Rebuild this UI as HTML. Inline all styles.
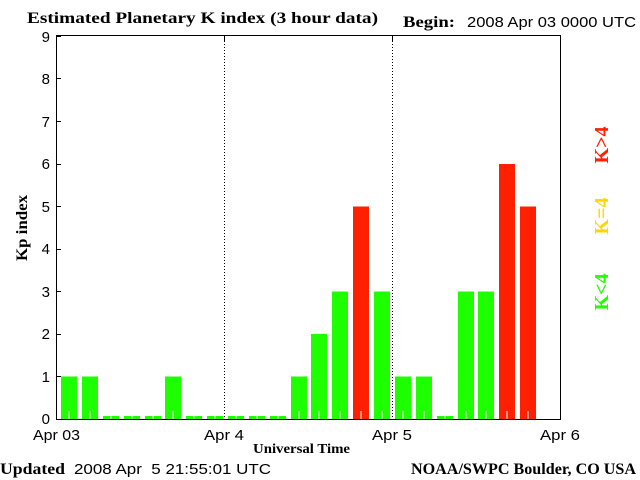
<!DOCTYPE html>
<html><head><style>body{margin:0;background:#fff}svg{display:block}</style></head>
<body>
<svg width="640" height="480" xmlns="http://www.w3.org/2000/svg">
<rect width="640" height="480" fill="#fff"/>
<g font-family="Liberation Serif, serif" font-weight="bold" font-size="16">
<text x="27" y="23" textLength="351" lengthAdjust="spacingAndGlyphs">Estimated Planetary K index (3 hour data)</text>
<text x="403" y="27" textLength="52" lengthAdjust="spacingAndGlyphs">Begin:</text>
<text x="0" y="474" textLength="65" lengthAdjust="spacingAndGlyphs">Updated</text>
<text x="411" y="474" textLength="225" lengthAdjust="spacingAndGlyphs">NOAA/SWPC Boulder, CO USA</text>
<text x="253" y="453" font-size="14" textLength="97" lengthAdjust="spacingAndGlyphs">Universal Time</text>
<text transform="translate(27,228) rotate(-90)" text-anchor="middle" font-size="16" textLength="66" lengthAdjust="spacingAndGlyphs">Kp index</text>
<text transform="translate(608,145) rotate(-90)" text-anchor="middle" fill="#ff2000" font-size="20">K&gt;4</text>
<text transform="translate(608,216) rotate(-90)" text-anchor="middle" fill="#ffd700" font-size="20">K=4</text>
<text transform="translate(608,292) rotate(-90)" text-anchor="middle" fill="#22ff00" font-size="20">K&lt;4</text>
</g>
<g font-family="Liberation Sans, sans-serif" font-size="15">
<text x="467" y="27" textLength="169" lengthAdjust="spacingAndGlyphs">2008 Apr 03 0000 UTC</text>
<text x="74" y="474" textLength="197" lengthAdjust="spacingAndGlyphs" xml:space="preserve">2008 Apr  5 21:55:01 UTC</text>
<text x="33" y="440" textLength="47" lengthAdjust="spacingAndGlyphs">Apr 03</text>
<text x="204" y="440" textLength="40" lengthAdjust="spacingAndGlyphs">Apr 4</text>
<text x="372" y="440" textLength="40" lengthAdjust="spacingAndGlyphs">Apr 5</text>
<text x="540" y="440" textLength="40" lengthAdjust="spacingAndGlyphs">Apr 6</text>
<g text-anchor="end">
<text x="50" y="424">0</text><text x="50" y="382">1</text><text x="50" y="339">2</text><text x="50" y="297">3</text><text x="50" y="254">4</text><text x="50" y="212">5</text><text x="50" y="169">6</text><text x="50" y="127">7</text><text x="50" y="84">8</text><text x="50" y="42">9</text>
</g>
</g>
<g fill="#1eff00">
<rect x="61" y="376.5" width="16" height="42.5"/>
<rect x="82" y="376.5" width="16" height="42.5"/>
<rect x="103" y="416" width="16" height="3"/>
<rect x="124" y="416" width="16" height="3"/>
<rect x="145" y="416" width="16" height="3"/>
<rect x="165" y="376.5" width="16" height="42.5"/>
<rect x="186" y="416" width="16" height="3"/>
<rect x="207" y="416" width="16" height="3"/>
<rect x="228" y="416" width="16" height="3"/>
<rect x="249" y="416" width="16" height="3"/>
<rect x="270" y="416" width="16" height="3"/>
<rect x="291" y="376.5" width="16" height="42.5"/>
<rect x="311" y="334" width="16" height="85"/>
<rect x="332" y="291.5" width="16" height="127.5"/>
<rect x="374" y="291.5" width="16" height="127.5"/>
<rect x="395" y="376.5" width="16" height="42.5"/>
<rect x="416" y="376.5" width="16" height="42.5"/>
<rect x="437" y="416" width="16" height="3"/>
<rect x="458" y="291.5" width="16" height="127.5"/>
<rect x="478" y="291.5" width="16" height="127.5"/>
</g>
<g fill="#ff2000">
<rect x="353" y="206.5" width="16" height="212.5"/>
<rect x="499" y="164" width="16" height="255"/>
<rect x="520" y="206.5" width="16" height="212.5"/>
</g>
<g fill="#fff">
<rect x="68.5" y="411" width="1" height="8"/><rect x="89.5" y="411" width="1" height="8"/>
<rect x="110.5" y="416" width="1" height="3"/><rect x="131.5" y="416" width="1" height="3"/>
<rect x="152.5" y="416" width="1" height="3"/><rect x="172.5" y="411" width="1" height="8"/>
<rect x="193.5" y="416" width="1" height="3"/><rect x="214.5" y="416" width="1" height="3"/>
<rect x="235.5" y="416" width="1" height="3"/><rect x="256.5" y="416" width="1" height="3"/>
<rect x="277.5" y="416" width="1" height="3"/><rect x="298.5" y="411" width="1" height="8"/>
<rect x="318.5" y="411" width="1" height="8"/><rect x="339.5" y="411" width="1" height="8"/>
<rect x="360.5" y="411" width="1" height="8"/><rect x="381.5" y="411" width="1" height="8"/>
<rect x="402.5" y="411" width="1" height="8"/><rect x="423.5" y="411" width="1" height="8"/>
<rect x="444.5" y="416" width="1" height="3"/><rect x="465.5" y="411" width="1" height="8"/>
<rect x="485.5" y="411" width="1" height="8"/><rect x="506.5" y="411" width="1" height="8"/>
<rect x="527.5" y="411" width="1" height="8"/>
</g>
<g stroke="#000" stroke-width="1" fill="none">
<rect x="56.5" y="35.5" width="504" height="384"/>
<line x1="224.5" y1="35" x2="224.5" y2="419" stroke-dasharray="1,2"/>
<line x1="392.5" y1="35" x2="392.5" y2="419" stroke-dasharray="1,2"/>
<path d="M56 376.5h5M56 334.5h5M56 291.5h5M56 249.5h5M56 206.5h5M56 164.5h5M56 121.5h5M56 78.5h5M56 36.5h5"/>
<path d="M224.5 35v6M392.5 35v6"/>
</g>
</svg>
</body></html>
